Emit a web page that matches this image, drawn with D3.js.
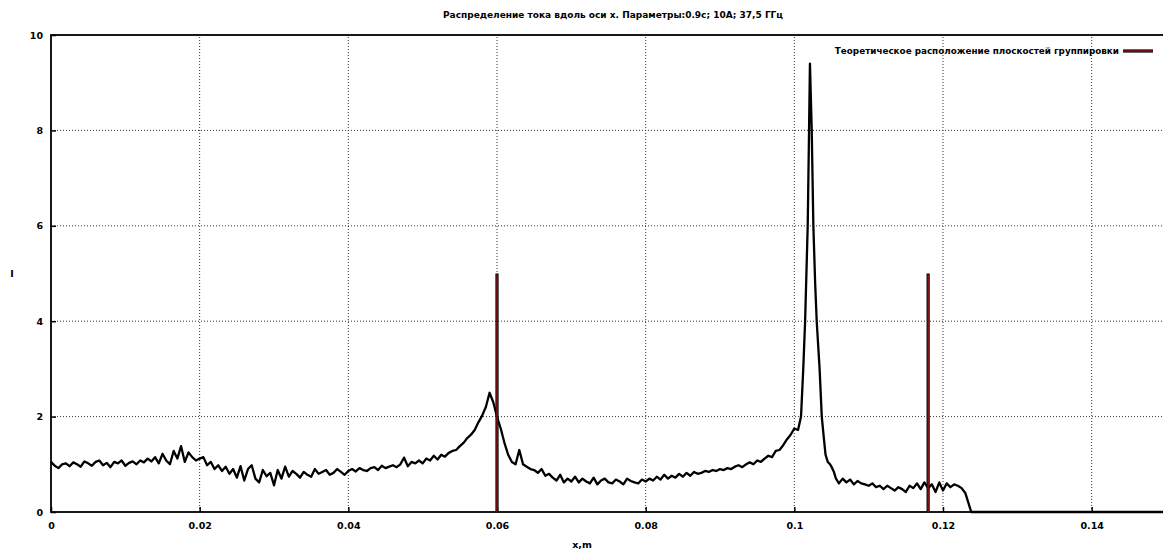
<!DOCTYPE html>
<html><head><meta charset="utf-8">
<script src="https://cdn.jsdelivr.net/npm/d3@7"></script>
<style>body{margin:0;background:#fff}svg text{font-family:"DejaVu Sans",Verdana,sans-serif;font-weight:bold}</style>
</head><body><svg id="c" width="1163" height="552"></svg>
<script>
const titleText = "Распределение тока вдоль оси x. Параметры:0.9c; 10A; 37,5 ГГц";
const legendText = "Теоретическое расположение плоскостей группировки";
const xLabel = "x,m", yLabel = "I";
const xTicks = [0, 0.02, 0.04, 0.06, 0.08, 0.1, 0.12, 0.14];
const yTicks = [0, 2, 4, 6, 8, 10];
const planeX = [0.06, 0.118];
const planeH = [5, 5];
const xs = [0,0.0005,0.001,0.0015,0.002,0.0025,0.003,0.0035,0.004,0.0045,0.005,0.0055,0.006,0.0065,0.007,0.0075,0.008,0.0085,0.009,0.0095,0.01,0.0105,0.011,0.0115,0.012,
0.0125,0.013,0.0135,0.014,0.0145,0.015,0.0155,0.016,0.0165,0.017,0.0175,0.018,0.0185,0.019,0.0195,0.02,
0.0205,0.021,0.0215,0.022,0.0225,0.023,0.0235,0.024,0.0245,0.025,0.0255,0.026,0.0265,0.027,0.0275,0.028,0.0285,0.029,0.0295,0.03,0.0305,0.031,0.0315,0.032,0.0325,0.033,0.0335,0.034,0.0345,0.035,0.0355,0.036,0.0365,0.037,0.0375,0.038,0.0385,0.039,0.0395,0.04,
0.0405,0.041,0.0415,0.042,0.0425,0.043,0.0435,0.044,0.0445,0.045,0.0455,0.046,0.0465,0.047,0.0475,0.048,0.0485,0.049,0.0495,0.05,0.0505,0.051,0.0515,0.052,0.0525,0.053,0.0535,0.054,0.0545,0.055,0.0555,0.056,0.0565,0.057,0.0575,0.058,0.0585,0.059,0.0595,0.06,0.0605,0.061,0.0615,0.062,0.0625,0.063,0.0635,0.064,0.0645,0.065,0.0655,0.066,0.0665,0.067,0.0675,0.068,0.0685,0.069,0.0695,0.07,
0.0705,0.071,0.0715,0.072,0.0725,0.073,0.0735,0.074,0.0745,0.075,0.0755,0.076,0.0765,0.077,0.0775,0.078,0.0785,0.079,0.0795,0.08,
0.0805,0.081,0.0815,0.082,0.0825,0.083,0.0835,0.084,0.0845,0.085,0.0855,0.086,0.0865,0.087,0.0875,0.088,0.0885,0.089,0.0895,0.09,0.0905,0.091,0.0915,0.092,0.0925,0.093,0.0935,0.094,0.0945,0.095,0.0955,0.096,0.0965,0.097,0.0975,0.098,0.0985,0.099,0.0995,0.1,0.1005,
0.1009,0.1012,0.10145,0.1018,0.10198,0.1021,0.10234,0.10256,0.1028,0.10301,0.1034,0.10369,0.104,0.1042,0.1045,0.1048,0.105,0.1053,0.1056,0.106,0.1065,0.107,0.1075,0.108,0.1085,0.109,0.1095,0.11,0.1105,0.111,0.1115,0.112,0.1125,0.113,0.1135,0.114,0.1145,0.115,0.1155,0.116,0.1165,0.117,0.1175,0.118,0.1185,0.119,0.1195,0.12,0.1205,0.121,0.1215,0.122,0.1225,0.123,0.1235,0.1238,0.15];
const iValues = [1.05,0.97,0.92,1.0,1.02,0.96,1.04,1.0,0.95,1.06,1.02,0.97,1.05,1.08,0.98,1.03,0.94,1.05,1.02,1.08,0.97,1.03,1.06,1.0,1.08,
1.04,1.12,1.06,1.15,1.02,1.22,1.08,1.0,1.28,1.12,1.38,1.05,1.25,1.15,1.08,1.12,
1.15,0.98,1.05,0.9,0.98,0.86,0.95,0.8,0.9,0.72,0.96,0.66,0.9,0.98,0.7,0.62,0.88,0.75,0.82,0.56,0.88,0.7,0.95,0.74,0.86,0.8,0.72,0.84,0.78,0.74,0.9,0.8,0.84,0.88,0.78,0.82,0.9,0.84,0.78,0.86,
0.9,0.85,0.92,0.88,0.86,0.92,0.94,0.88,0.97,0.92,0.95,0.98,0.94,1.0,1.14,0.96,1.05,1.02,1.08,1.02,1.12,1.08,1.18,1.1,1.2,1.16,1.24,1.28,1.3,1.38,1.45,1.55,1.62,1.72,1.88,2.02,2.2,2.5,2.3,2.0,1.75,1.45,1.2,1.05,1.0,1.3,1.0,0.95,0.9,0.88,0.82,0.9,0.76,0.8,0.72,0.66,0.78,0.62,0.7,0.64,
0.74,0.62,0.7,0.64,0.6,0.72,0.58,0.66,0.7,0.62,0.6,0.68,0.64,0.58,0.7,0.65,0.62,0.6,0.68,0.64,
0.7,0.66,0.74,0.68,0.78,0.7,0.76,0.72,0.8,0.74,0.82,0.76,0.84,0.8,0.82,0.86,0.84,0.88,0.86,0.9,0.88,0.92,0.9,0.95,0.98,0.94,1.0,1.04,1.0,1.08,1.05,1.12,1.18,1.15,1.28,1.3,1.4,1.52,1.62,1.75,1.72,
2.0,3.0,4.0,6.0,8.0,9.4,8.0,6.0,4.8,4.0,3.0,2.0,1.5,1.2,1.05,1.0,0.95,0.85,0.7,0.6,0.7,0.62,0.68,0.58,0.65,0.6,0.58,0.55,0.6,0.52,0.55,0.48,0.55,0.5,0.45,0.52,0.48,0.42,0.55,0.5,0.6,0.48,0.62,0.5,0.58,0.42,0.62,0.45,0.6,0.52,0.58,0.55,0.5,0.4,0.15,0,0];

const svg = d3.select("#c");
const L = 51, R = 1166, T = 35, B = 512;
const x = d3.scaleLinear().domain([0, 0.15]).range([L, R]);
const y = d3.scaleLinear().domain([0, 10]).range([B, T]);

// grid
const g = svg.append("g");
g.selectAll(".gx").data(xTicks.filter(d => d > 0)).enter().append("line")
  .attr("x1", d => x(d)).attr("x2", d => x(d)).attr("y1", B).attr("y2", T)
  .attr("stroke", "#333").attr("stroke-width", 1).attr("stroke-dasharray", "1,2");
g.selectAll(".gy").data(yTicks.filter(d => d > 0 && d < 10)).enter().append("line")
  .attr("x1", L).attr("x2", R).attr("y1", d => y(d)).attr("y2", d => y(d))
  .attr("stroke", "#333").attr("stroke-width", 1).attr("stroke-dasharray", "1,2");

// axes
const xAxis = d3.axisBottom(x).tickValues(xTicks).tickSize(-5).tickPadding(10).tickFormat(d => d === 0 ? "0" : String(+d.toFixed(2)));
const yAxis = d3.axisLeft(y).tickValues(yTicks).tickSize(-5).tickPadding(8).tickFormat(d3.format("d"));
const gx = svg.append("g").attr("transform", `translate(0,${B})`).call(xAxis);
const gy = svg.append("g").attr("transform", `translate(${L},0)`).call(yAxis);
[gx, gy].forEach(a => {
  a.select(".domain").remove();
  a.selectAll("line").attr("stroke", "#000").attr("stroke-width", 1.5);
  a.selectAll("text").attr("font-size", 9.5).attr("fill", "#000");
});
// frame
svg.append("rect").attr("x", L).attr("y", T).attr("width", 1163 - L + 4).attr("height", B - T)
  .attr("fill", "none").attr("stroke", "#000").attr("stroke-width", 1.8);

// curve
const pts = xs.map((v, i) => [v, iValues[i]]);
svg.append("path").datum(pts)
  .attr("d", d3.line().x(d => x(d[0])).y(d => y(d[1])))
  .attr("fill", "none").attr("stroke", "#000").attr("stroke-width", 2.3).attr("stroke-linejoin", "round");

// planes
const planes = planeX.map((v, i) => ({x: v, h: planeH[i]}));
svg.selectAll(".pb").data(planes).enter().append("line")
  .attr("x1", d => x(d.x)).attr("x2", d => x(d.x)).attr("y1", y(0)).attr("y2", d => y(d.h))
  .attr("stroke", "#000").attr("stroke-width", 3.2);
svg.selectAll(".pr").data(planes).enter().append("line")
  .attr("x1", d => x(d.x)).attr("x2", d => x(d.x)).attr("y1", y(0)).attr("y2", d => y(d.h) + 1)
  .attr("stroke", "#a01515").attr("stroke-width", 1.3);

// legend
svg.append("text").attr("x", 1119).attr("y", 54).attr("text-anchor", "end").attr("font-size", 8.8).text(legendText);
svg.append("line").attr("x1", 1123).attr("x2", 1153).attr("y1", 51).attr("y2", 51).attr("stroke", "#000").attr("stroke-width", 3.2);
svg.append("line").attr("x1", 1123).attr("x2", 1153).attr("y1", 51).attr("y2", 51).attr("stroke", "#a01515").attr("stroke-width", 1.3);

// title & labels
svg.append("text").attr("x", 613).attr("y", 18).attr("text-anchor", "middle").attr("font-size", 9).text(titleText);
svg.append("text").attr("x", 582).attr("y", 548).attr("text-anchor", "middle").attr("font-size", 9.5).text(xLabel);
svg.append("text").attr("x", 12).attr("y", 277).attr("text-anchor", "middle").attr("font-size", 9.5).text(yLabel);
</script></body></html>
